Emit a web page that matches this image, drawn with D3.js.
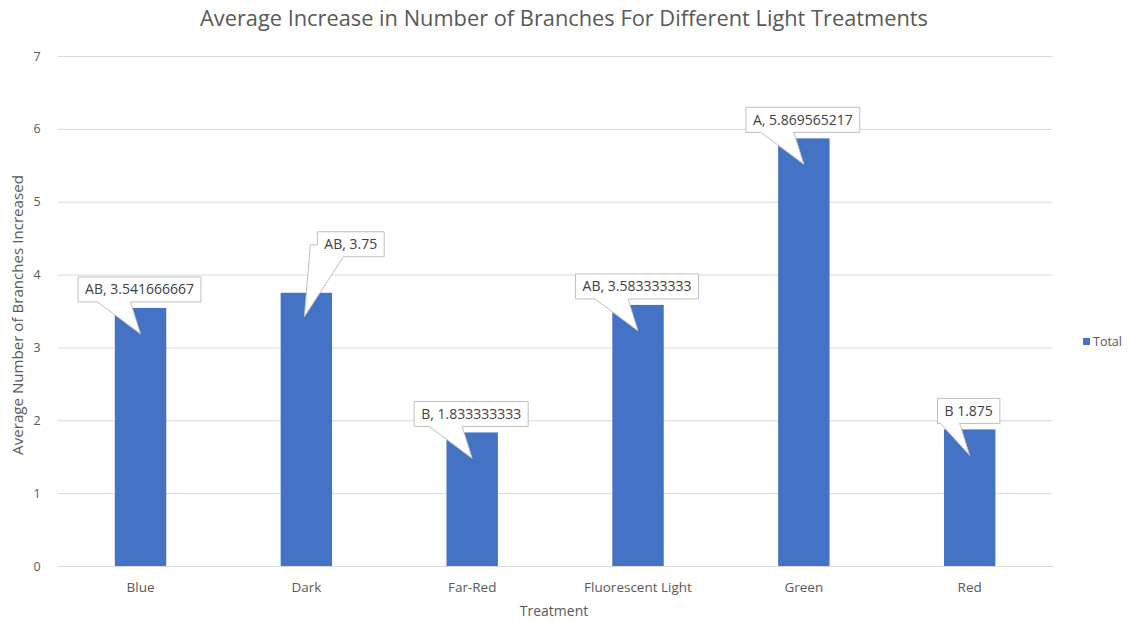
<!DOCTYPE html>
<html>
<head>
<meta charset="utf-8">
<script src="https://cdn.jsdelivr.net/npm/d3@7"></script>
<style>
  html, body { margin: 0; padding: 0; background: #ffffff; }
  svg { display: block; font-family: "Open Sans", "Liberation Sans", sans-serif; }
</style>
</head>
<body>
<svg id="chart" width="1128" height="622"></svg>
<script>
// ---- data ----
const categories = ["Blue", "Dark", "Far-Red", "Fluorescent Light", "Green", "Red"];
const values = [3.541666667, 3.75, 1.833333333, 3.583333333, 5.869565217, 1.875];
const labels = ["AB, 3.541666667", "AB, 3.75", "B, 1.833333333", "AB, 3.583333333", "A, 5.869565217", "B 1.875"];
const yTicks = [0, 1, 2, 3, 4, 5, 6, 7];
const seriesName = "Total";
const titleText = "Average Increase in Number of Branches For Different Light Treatments";
const xTitle = "Treatment";
const yTitle = "Average Number of Branches Increased";

// ---- layout ----
const W = 1128, H = 622;
const plot = { left: 57.6, right: 1052.6, top: 56, bottom: 566 };
const barColor = "#4472c4";
const gridColor = "#d9d9d9";
const textColor = "#595959";

const svg = d3.select("#chart");
svg.append("rect").attr("width", W).attr("height", H).attr("fill", "#fff");

const x = d3.scaleBand().domain(categories).range([plot.left, plot.right])
  .paddingInner(0.69).paddingOuter(0.345);
const y = d3.scaleLinear().domain([0, 7]).range([plot.bottom, plot.top]);

function fit(sel, target) {
  const node = sel.node();
  const fs = parseFloat(sel.attr("font-size"));
  const w = node.getComputedTextLength();
  if (w > 0) sel.attr("font-size", (fs * target / w).toFixed(2));
  return sel;
}

// gridlines
const gridAxis = d3.axisLeft(y).tickValues(yTicks).tickSize(-(plot.right - plot.left)).tickFormat("");
const g = svg.append("g").attr("transform", `translate(${plot.left},0)`).call(gridAxis);
g.select(".domain").remove();
g.selectAll(".tick line").attr("stroke", gridColor).attr("stroke-width", 1);

// y tick labels
const yl = d3.axisLeft(y).tickValues(yTicks).tickSize(0).tickPadding(17).tickFormat(d3.format("d"));
const gy = svg.append("g").attr("transform", `translate(${plot.left},0)`).call(yl);
gy.select(".domain").remove();
gy.selectAll("text").attr("fill", textColor).attr("font-size", 12.5)
  .attr("font-family", "'Open Sans', sans-serif");

// bars
svg.append("g").selectAll("rect").data(categories).join("rect")
  .attr("x", d => x(d))
  .attr("width", x.bandwidth())
  .attr("y", (d, i) => y(values[i]))
  .attr("height", (d, i) => y(0) - y(values[i]))
  .attr("fill", barColor);

// x axis
const xa = d3.axisBottom(x).tickSize(0).tickPadding(16);
const gx = svg.append("g").attr("transform", `translate(0,${plot.bottom})`).call(xa);
gx.select(".domain").attr("stroke", gridColor);
gx.selectAll("text").attr("fill", textColor).attr("font-size", 13.5)
  .attr("font-family", "'Open Sans', sans-serif");

// title
const t = svg.append("text").attr("x", 564).attr("y", 26).attr("text-anchor", "middle")
  .attr("fill", textColor).attr("font-size", 18).text(titleText);
fit(t, 728);

// axis titles
svg.append("text").attr("x", 554).attr("y", 616).attr("text-anchor", "middle")
  .attr("fill", textColor).attr("font-size", 14).text(xTitle);
const yt = svg.append("text").attr("transform", `translate(23,${(plot.top + plot.bottom) / 2 + 4}) rotate(-90)`)
  .attr("text-anchor", "middle").attr("fill", textColor).attr("font-size", 13).text(yTitle);
fit(yt, 280);

// legend
const lg = svg.append("g").attr("transform", "translate(1083,342)");
lg.append("rect").attr("x", 0).attr("y", -4).attr("width", 7).attr("height", 7).attr("fill", barColor);
lg.append("text").attr("x", 10).attr("y", 4).attr("fill", textColor).attr("font-size", 12.5).text(seriesName);

// callouts
const calloutLayer = svg.append("g");
const boxH = 25;
categories.forEach((c, i) => {
  const cx = x(c) + x.bandwidth() / 2;
  const top = y(values[i]);
  const grp = calloutLayer.append("g");
  const txt = grp.append("text").attr("font-size", 14).attr("fill", "#404040")
    .attr("text-anchor", "middle").text(labels[i]);
  const tw = txt.node().getComputedTextLength();
  const bw = tw + 14;
  let path, tx, ty;
  if (c === "Dark") {
    const left = cx + 11, bottom = top - 36;
    const right = left + bw, btop = bottom - boxH;
    const tip = [cx - 2, top + 24];
    path = `M${left},${btop}H${right}V${bottom}H${left + 26}L${tip[0]},${tip[1]}L${left - 7},${bottom - 12}H${left}Z`;
    tx = left + bw / 2; ty = bottom - 7.5;
  } else {
    const bottom = top - 6, btop = bottom - boxH;
    const bcx = cx - 1;
    const left = bcx - bw / 2, right = bcx + bw / 2;
    const tip = [cx, top + 26];
    const b1 = Math.max(left + 3, bcx - 42), b2 = bcx - 9;
    path = `M${left},${btop}H${right}V${bottom}H${b2}L${tip[0]},${tip[1]}L${b1},${bottom}H${left}Z`;
    tx = bcx; ty = bottom - 7.5;
  }
  grp.insert("path", "text").attr("d", path).attr("fill", "#fff")
    .attr("stroke", "#bfbfbf").attr("stroke-width", 1);
  txt.attr("x", tx).attr("y", ty);
});
</script>
</body>
</html>
